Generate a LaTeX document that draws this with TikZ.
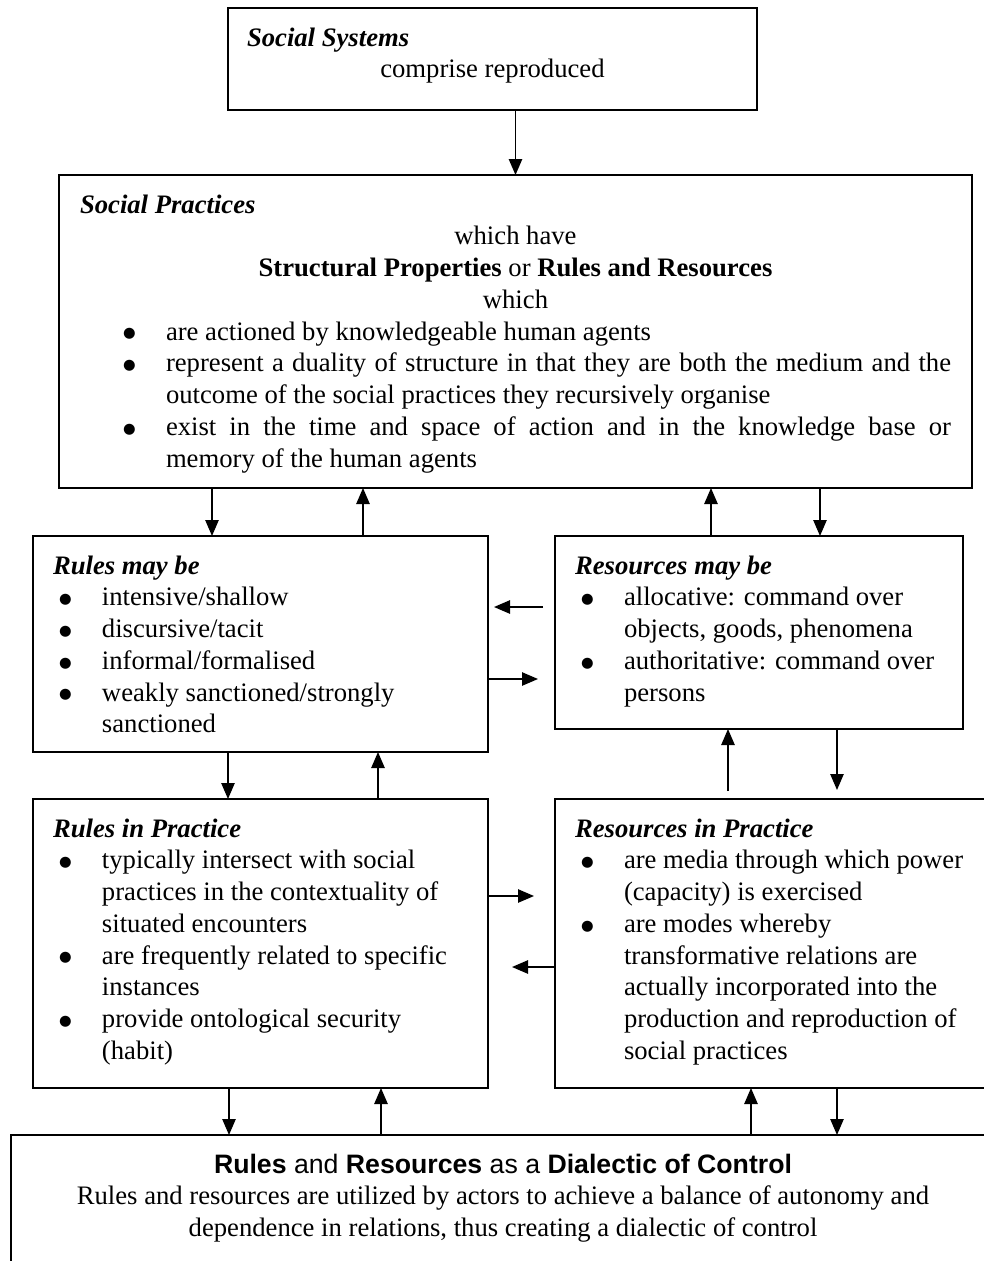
\documentclass[tikz,border=0pt]{standalone}
\usepackage{fontspec}
\setmainfont{Liberation Serif}
\setsansfont{Liberation Sans}
\newfontfamily\dotfont{DejaVu Sans}
\usepackage{tikz}
\usetikzlibrary{arrows.meta}
\usetikzlibrary{calc}
\newlength{\px}
\setlength{\px}{0.45pt}
\tikzset{panel/.style={rectangle, draw=black, line width=0.9pt, anchor=north west, inner ysep=0pt, inner xsep=20\px, outer sep=0pt, font=\fontsize{12pt}{14.3pt}\selectfont}}
\tikzset{link/.style={line width=0.7pt, -{Triangle[length=7.2pt,width=6pt]}}}
\newcommand{\paneltext}[3]{\parbox[c][#2\px][t]{#1\px}{\rule{0pt}{38\px}#3}}
\newcommand{\bigdot}{\raisebox{1pt}{\dotfont\fontsize{6.5pt}{6.5pt}\selectfont ●}}
\newcommand{\bitem}[2]{\par\noindent\hangindent=#2\px\hangafter=1\hspace*{#1\px}\makebox[\dimexpr#2\px-#1\px\relax][l]{\bigdot}\ignorespaces}
\newcommand{\ptitle}[1]{\textbf{\textit{#1}}}

\begin{document}
\begin{tikzpicture}[x=0.45pt,y=-0.45pt]
    \useasboundingbox (0,0) rectangle (984,1261);
    \clip (0,0) rectangle (984,1261);

    \node [panel, inner xsep=19\px](ss) at (228,8){\paneltext{491}{102}{\ptitle{Social Systems}\par
        {\centering comprise reproduced\par}}};
    \node [panel, inner xsep=21\px](sp) at (59,175){\paneltext{871}{313}{\ptitle{Social Practices}\par
        {\centering which have\\ \textbf{Structural Properties} or \textbf{Rules and Resources}\\ which\par}
        \bitem{43}{86}are actioned by knowledgeable human agents
        \bitem{43}{86}represent a duality of structure in that they are both the medium and the\linebreak outcome of the social practices they recursively organise
        \bitem{43}{86}exist in the time and space of action and in the knowledge base or\linebreak memory of the human agents\par}};
    \node [panel](rmay) at (33,536){\paneltext{415}{216}{\ptitle{Rules may be}
        \bitem{6}{49}intensive/shallow
        \bitem{6}{49}discursive/tacit
        \bitem{6}{49}informal/formalised
        \bitem{6}{49}weakly sanctioned/strongly\\ sanctioned\par}};
    \node [panel](resmay) at (555,536){\paneltext{368}{193}{\ptitle{Resources may be}
        \bitem{6}{49}allocative: command over\\ objects, goods, phenomena
        \bitem{6}{49}authoritative: command over\\ persons\par}};
    \node [panel](rprac) at (33,799){\paneltext{415}{289}{\ptitle{Rules in Practice}
        \bitem{6}{49}typically intersect with social\\ practices in the contextuality of\\ situated encounters
        \bitem{6}{49}are frequently related to specific\\ instances
        \bitem{6}{49}provide ontological security\\ (habit)\par}};
    \node [panel](resprac) at (555,799){\paneltext{405}{289}{\ptitle{Resources in Practice}
        \bitem{6}{49}are media through which power\\ (capacity) is exercised
        \bitem{6}{49}are modes whereby\\ transformative relations are\\ actually incorporated into the\\ production and reproduction of\\ social practices\par}};
    \node [panel](dial) at (11,1135){\paneltext{944}{200}{\centering
        \textsf{\textbf{Rules} and \textbf{Resources} as a \textbf{Dialectic of Control}}\\
        Rules and resources are utilized by actors to achieve a balance of autonomy and\\
        dependence in relations, thus creating a dialectic of control\par}};

    %vertical links
    \draw[link] (ss.south -| sp.north) -- (sp.north);
    \draw[link] ($(sp.south west)+(153,0)$) -- ($(rmay.north west)+(179,0)$);
    \draw[link] ($(rmay.north west)+(330,0)$) -- ($(sp.south west)+(304,0)$);
    \draw[link] ($(resmay.north west)+(156,0)$) -- ($(sp.south west)+(652,0)$);
    \draw[link] ($(sp.south west)+(761,0)$) -- ($(resmay.north west)+(265,0)$);
    \draw[link] ($(rmay.south west)+(195,0)$) -- ($(rprac.north west)+(195,0)$);
    \draw[link] ($(rprac.north west)+(345,0)$) -- ($(rmay.south west)+(345,0)$);
    \draw[link, shorten <=8\px] ($(resprac.north west)+(173,0)$) -- ($(resmay.south west)+(173,0)$);
    \draw[link, shorten >=9\px] ($(resmay.south west)+(282,0)$) -- ($(resprac.north west)+(282,0)$);
    \draw[link] ($(rprac.south west)+(196,0)$) -- ($(dial.north west)+(218,0)$);
    \draw[link] ($(dial.north west)+(370,0)$) -- ($(rprac.south west)+(348,0)$);
    \draw[link] ($(dial.north west)+(740,0)$) -- ($(resprac.south west)+(196,0)$);
    \draw[link] ($(resprac.south west)+(282,0)$) -- ($(dial.north west)+(826,0)$);

    %horizontal links
    \draw[link, shorten <=12\px, shorten >=6\px] ($(resmay.north west)+(0,71)$) -- ($(rmay.north east)+(0,71)$);
    \draw[link, shorten >=17\px] ($(rmay.north east)+(0,143)$) -- ($(resmay.north west)+(0,143)$);
    \draw[link, shorten >=21\px] ($(rprac.north east)+(0,97)$) -- ($(resprac.north west)+(0,97)$);
    \draw[link, shorten >=24\px] ($(resprac.north west)+(0,168)$) -- ($(rprac.north east)+(0,168)$);
\end{tikzpicture}
\end{document}
